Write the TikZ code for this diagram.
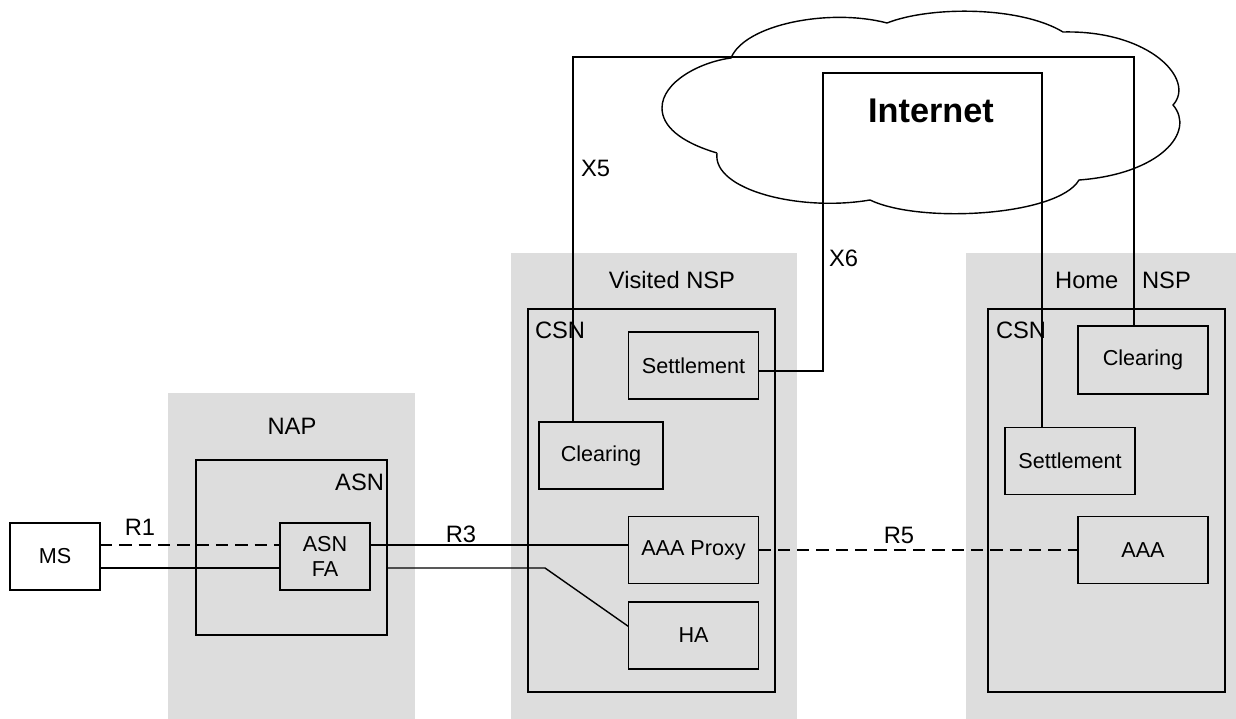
\documentclass[tikz,border=0pt]{standalone}
\usepackage{fontspec}
\setmainfont{Liberation Sans}
\usetikzlibrary{positioning}
\definecolor{zonegray}{RGB}{221,221,221}

\begin{document}
\begin{tikzpicture}
[x=0.02cm,y=-0.02cm,
 every node/.style={inner sep=0mm,outer sep=0mm,font=\fontsize{12.3}{14}\selectfont},
 zone/.style={fill=zonegray,anchor=north west,minimum height=9.32cm},
 box/.style={draw=black,rectangle,align=center,minimum width=2.6cm,minimum height=1.34cm},
 lbl/.style={font=\fontsize{13.5}{16}\selectfont},
 r/.style={dash pattern=on 7pt off 4pt},
 line width=0.8pt]
\useasboundingbox (0,0) rectangle (1236,719);
% shaded domains
\node[zone,minimum width=4.94cm,minimum height=6.52cm] (nap) at (168,393) {};
\node[zone,minimum width=5.72cm] (vnsp) at (511,253) {};
\node[zone,minimum width=5.40cm] (hnsp) at (966,253) {};
% cloud
\draw (717,153) .. controls (680,142) and (662,126) .. (662,108)
      .. controls (662,82) and (700,62) .. (731,58)
      .. controls (745,24) and (830,8) .. (887,23)
      .. controls (930,6) and (1020,6) .. (1063,32)
      .. controls (1150,30) and (1196,80) .. (1173,105)
      .. controls (1196,132) and (1160,174) .. (1079,180)
      .. controls (1058,216) and (920,224) .. (870,200)
      .. controls (800,212) and (712,190) .. (717,153);
\node[font=\fontsize{19.5}{22}\selectfont\bfseries] (inet) at (931,111) {Internet};
% boxes
\node[box,minimum width=1.8cm] (ms) at (55,556.5) {MS};
\node[box,minimum width=3.82cm,minimum height=3.5cm] (asn) at (291.5,547.5) {};
\node[box,minimum width=1.8cm] (asnfa) at (325,556.5) {ASN\\FA};
\node[box,minimum width=4.94cm,minimum height=7.66cm] (csnV) at (651.5,500.5) {};
\node[box] (settV)  at (693.5,365.5) {Settlement};
\node[box,minimum width=2.48cm] (clearV) at (601,455.5) {Clearing};
\node[box] (proxy)  at (693.5,550) {AAA Proxy};
\node[box] (ha)     at (693.5,635.5) {HA};
\node[box,minimum width=4.74cm,minimum height=7.66cm] (csnH) at (1106.5,500.5) {};
\node[box,minimum height=1.36cm] (clearH) at (1143,360) {Clearing};
\node[box] (settH)  at (1070,461) {Settlement};
\node[box] (aaa)    at (1143,550) {AAA};
% labels
\node[lbl] (napL) at (292,426) {NAP};
\node[lbl,anchor=east] (asnL) at (384,482) {ASN};
\node[lbl] (vnspL) at (672,280) {Visited NSP};
\node[lbl,anchor=west] (csnVL) at (535,330) {CSN};
\node[lbl] (hnspL) at (1123,280) {Home\quad NSP};
\node[lbl,anchor=west] (csnHL) at (996,330) {CSN};
\node[lbl] (r1L) at (140,527) {R1};
\node[lbl] (r3L) at (461,534) {R3};
\node[lbl] (r5L) at (899,535) {R5};
\node[lbl,anchor=west] (x5L) at (581,168) {X5};
\node[lbl,anchor=west] (x6L) at (829,258) {X6};
% reference points
\coordinate (ya) at (0,545);
\coordinate (yb) at (0,568);
\coordinate (kink) at (545,568);
\coordinate (x5l) at (573,57);
\coordinate (x5r) at (1134,57);
\coordinate (x6a) at (823,371);
\coordinate (x6b) at (823,73);
\coordinate (x6c) at (1042,73);
% links
\draw[r] (ms.east |- ya) -- (asnfa.west |- ya);
\draw    (ms.east |- yb) -- (asnfa.west |- yb);
\draw    (asnfa.east |- ya) -- (proxy.west |- ya);
\draw    (asn.east |- yb) -- (kink) -- ([yshift=0.18cm]ha.west);
\draw[r] (proxy.east) -- (aaa.west);
\draw    (clearV.north -| x5l) -- (x5l) -- (x5r) -- (clearH.north -| x5r);
\draw    (settV.east |- x6a) -- (x6a) -- (x6b) -- (x6c) -- (settH.north -| x6c);
\end{tikzpicture}
\end{document}
